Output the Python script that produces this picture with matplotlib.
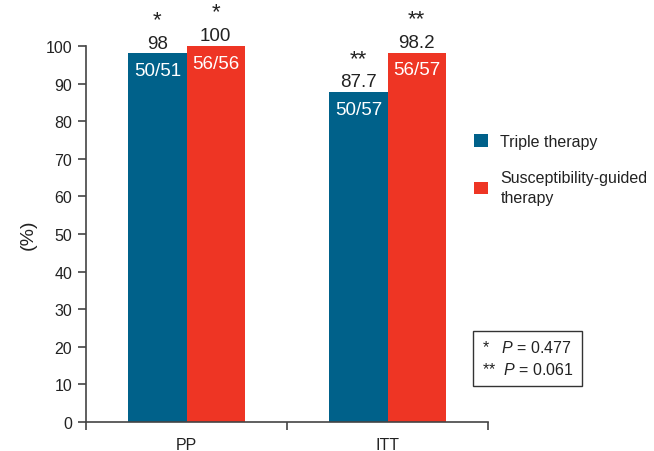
import numpy as np
import matplotlib.pyplot as plt

plt.rcParams['font.family'] = ['Liberation Sans', 'DejaVu Sans']
plt.rcParams['mathtext.fontset'] = 'custom'
plt.rcParams['mathtext.it'] = 'Liberation Sans:italic'
plt.rcParams['mathtext.rm'] = 'Liberation Sans'

groups = ['PP', 'ITT']
series = ['Triple therapy', 'Susceptibility-guided\ntherapy']
triple = [98, 87.7]
guided = [100, 98.2]
triple_lbl = ['98', '87.7']
guided_lbl = ['100', '98.2']
triple_n = ['50/51', '50/57']
guided_n = ['56/56', '56/57']
stars = ['*', '**']

blue = '#00618a'
red = '#ee3524'
dark = '#222222'

fig = plt.figure(figsize=(6.54, 4.52), dpi=100)
ax = fig.add_axes([0.1315, 0.0642, 0.6147, 0.8319])

x = np.array([0.5, 1.5])
w = 0.289
b1 = ax.bar(x - w/2, triple, w, color=blue, label=series[0])
b2 = ax.bar(x + w/2, guided, w, color=red, label=series[1])

for i in range(len(groups)):
    for xx, v, lbl, n, st in [(x[i] - w/2, triple[i], triple_lbl[i], triple_n[i], stars[i]),
                             (x[i] + w/2, guided[i], guided_lbl[i], guided_n[i], stars[i])]:
        ax.text(xx, v + 0.5, lbl, ha='center', va='bottom', fontsize=13.5, color=dark, clip_on=False)
        ax.text(xx, v + 6.2, st, ha='center', va='bottom', fontsize=16, color=dark, clip_on=False)
        ax.text(xx, v - 2.3, n, ha='center', va='top', fontsize=13.5, color='white')

ax.set_xlim(0, 2)
ax.set_ylim(0, 100)
ax.set_yticks(np.arange(0, 101, 10))
ax.set_xticks([0, 1, 2])
ax.set_xticklabels([])
ax.set_xticks(x, minor=True)
ax.set_xticklabels(groups, minor=True)
ax.tick_params(axis='x', which='minor', length=0, pad=11, labelsize=11.5, colors=dark)
ax.tick_params(axis='x', which='major', length=6, width=1.2, color='#444444')
ax.tick_params(axis='y', length=6, width=1.2, color='#444444', labelsize=11.5, labelcolor=dark, pad=4)
for s in ['top', 'right']:
    ax.spines[s].set_visible(False)
for s in ['left', 'bottom']:
    ax.spines[s].set_linewidth(1.2)
    ax.spines[s].set_color('#444444')
ax.set_ylabel('(%)', fontsize=14, color=dark, labelpad=6)

leg = fig.legend(handles=[b1, b2], loc='upper left', bbox_to_anchor=(0.703, 0.733),
                 frameon=False, fontsize=11.5, handlelength=0.85, handleheight=0.85,
                 handletextpad=0.8, labelspacing=1.3)
for t in leg.get_texts():
    t.set_color(dark)
    t.set_linespacing(1.45)

fig.text(0.737, 0.205, '*   $P$ = 0.477\n**  $P$ = 0.061', fontsize=11.5, color=dark,
         va='center', ha='left', linespacing=1.45,
         bbox=dict(boxstyle='square,pad=0.55', fc='white', ec='#333333', lw=1))

fig.savefig('out.png', dpi=100)
